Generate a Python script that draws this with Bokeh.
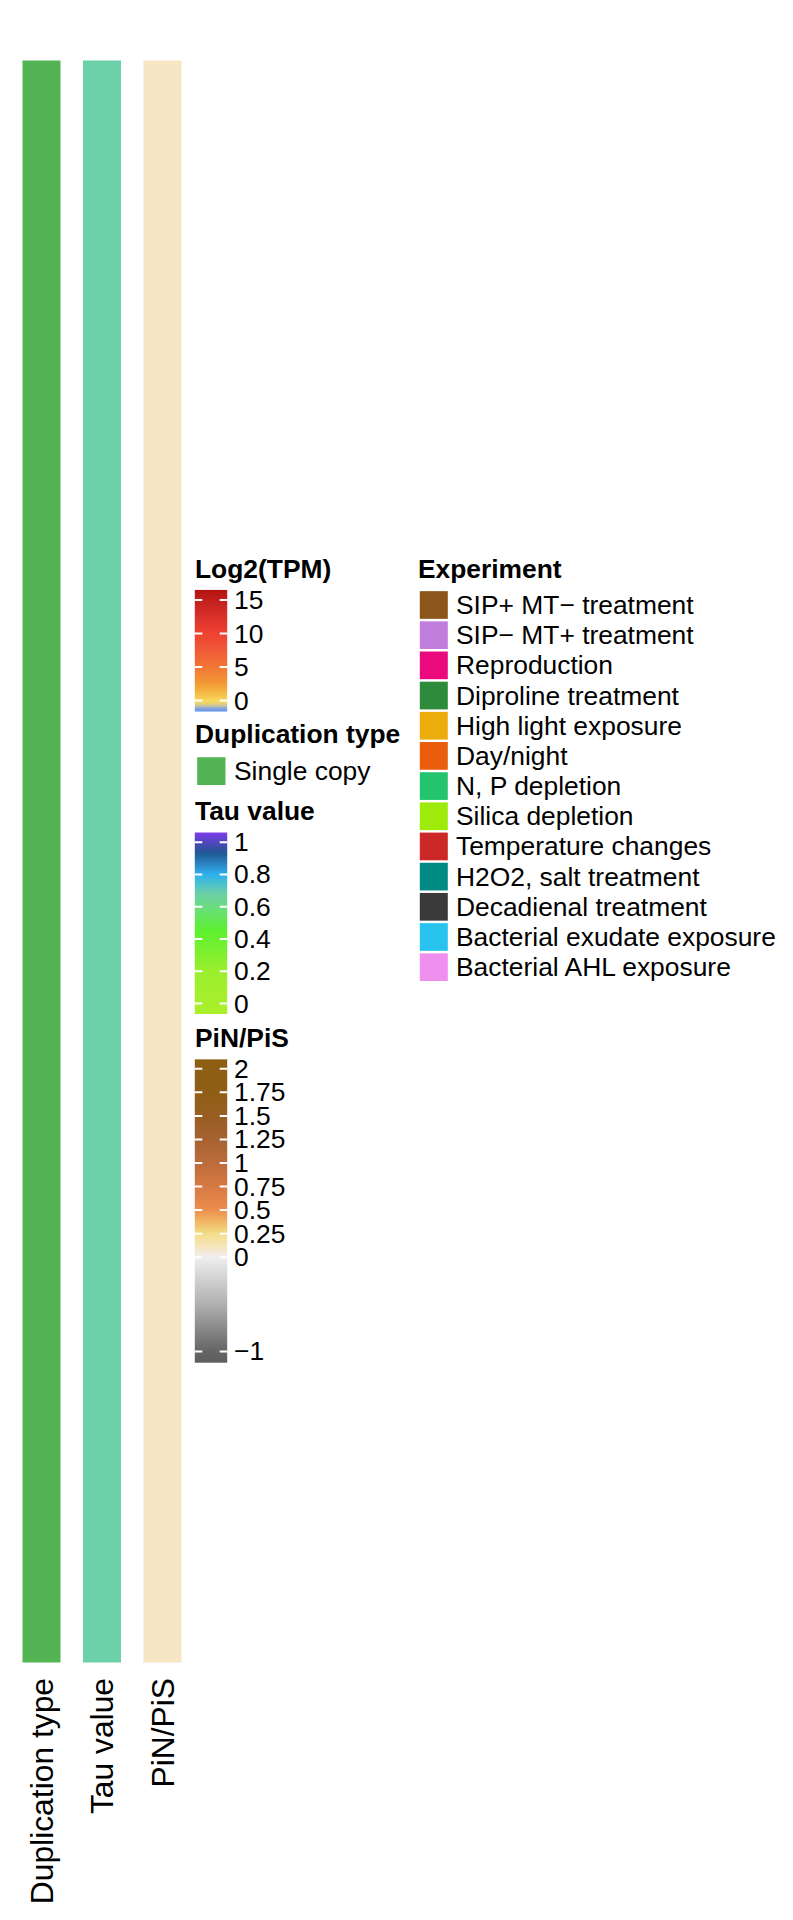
import math
import numpy as np
from bokeh.plotting import figure
from bokeh.models import Range1d
from bokeh.core.properties import value
from bokeh.embed import file_html
from bokeh.resources import INLINE

# ---------------- data ----------------
annotation_names = ["Duplication type", "Tau value", "PiN/PiS"]
duplication_type = ["Single copy"]
tau_value = [0.68]
pin_pis = [0.1]

dup_levels = ["Single copy"]
dup_colors = ["#52B452"]

log2_ticks = [0, 5, 10, 15]
log2_tick_labels = ["0", "5", "10", "15"]
log2_limits = [-1.65, 16.5]
log2_stops = [-1.65, -1.25, -0.8, -0.3, 0, 0.5, 1.5, 3, 5, 7.5, 10, 12.5, 15, 16.5]
log2_stop_colors = ["#6495ED", "#7FA0E0", "#C9C4A0", "#F2D665", "#F7D85C", "#F6C850",
                    "#F5B040", "#F39235", "#F27535", "#F05A37", "#EE4232", "#D8302A",
                    "#C01E1C", "#B01210"]

tau_ticks = [0, 0.2, 0.4, 0.6, 0.8, 1]
tau_tick_labels = ["0", "0.2", "0.4", "0.6", "0.8", "1"]
tau_limits = [-0.065, 1.06]
tau_stops = [-0.065, 0.2, 0.45, 0.6, 0.68, 0.8, 0.88, 0.93, 0.97, 1.06]
tau_stop_colors = ["#ABEF2C", "#9BEF2E", "#5DF02F", "#6ADD80", "#6CD0A8", "#2DB2EE",
                   "#2A7AB8", "#1E5C96", "#3C4DA8", "#7D3CEB"]

pin_ticks = [-1, 0, 0.25, 0.5, 0.75, 1, 1.25, 1.5, 1.75, 2]
pin_tick_labels = ["\u22121", "0", "0.25", "0.5", "0.75", "1", "1.25", "1.5", "1.75", "2"]
pin_limits = [-1.12, 2.1]
pin_stops = [-1.12, -1, -0.5, 0, 0.1, 0.25, 0.4, 0.5, 0.75, 1, 1.25, 1.5, 1.75, 2.1]
pin_stop_colors = ["#5E5E5E", "#656565", "#B0B0B0", "#F0EFF0", "#F6E6C4", "#F3DE88",
                   "#F0B060", "#EE8E4E", "#D77A44", "#BE6C3C", "#A76232", "#985E22",
                   "#905E16", "#8C5E12"]

experiments = ["SIP+ MT\u2212 treatment", "SIP\u2212 MT+ treatment", "Reproduction",
               "Diproline treatment", "High light exposure", "Day/night",
               "N, P depletion", "Silica depletion", "Temperature changes",
               "H2O2, salt treatment", "Decadienal treatment",
               "Bacterial exudate exposure", "Bacterial AHL exposure"]
experiment_colors = ["#8C561A", "#C27EDC", "#EA0A7D", "#2E8B3C", "#ECAC0C", "#EA5D0D",
                     "#24C46E", "#9EEA0A", "#CC2828", "#008A84", "#3A3A3A",
                     "#28C4EE", "#F090EE"]

# ---------------- layout / style ----------------
FIG_W, FIG_H, M = 777, 1904, 0
FONT = "Liberation Sans"
LAB_PX = 26.4
LAB = "26.4px"
COL_PX = 31.8
COLLAB = "31.8px"
BASE_ADJ = 0.0  # anchor offset (fraction of font size) from cap centre

HEAT_TOP, HEAT_BOT = 60, 1662
COL_C0, COL_PITCH, COL_W = 41, 60.5, 38
COL_LABEL_END = 1677.5

GRID_L, GRID_R = 194.3, 226.7
TITLE_X = 194.5
LABEL_X = 233.5
EXP_TITLE_X, EXP_SW_L, EXP_SW_R, EXP_LABEL_X = 417.4, 419.3, 447.3, 455.5
EXP_ROW0, EXP_PITCH, SW_H = 604.5, 30.18, 27.7
TITLE_CAPC = 9.3  # title baseline minus cap centre


def hex2rgb(h):
    return tuple(int(h[i:i + 2], 16) for i in (1, 3, 5))


def ramp_rgb(v, stops, cols):
    if v <= stops[0]:
        return hex2rgb(cols[0])
    for i in range(len(stops) - 1):
        if stops[i] <= v <= stops[i + 1]:
            t = (v - stops[i]) / (stops[i + 1] - stops[i])
            a, b = hex2rgb(cols[i]), hex2rgb(cols[i + 1])
            return tuple(int(round(a[k] + (b[k] - a[k]) * t)) for k in range(3))
    return hex2rgb(cols[-1])


def ramp(v, stops, cols):
    return "#%02x%02x%02x" % ramp_rgb(v, stops, cols)


def linear_range(v_a, y_a, v_b, y_b):
    """extra range so that value v_a sits at page y_a and v_b at page y_b"""
    ppu = (y_a - y_b) / (v_b - v_a)
    f = lambda y: v_a + (y_a - y) / ppu
    return Range1d(start=f(M + FIG_H), end=f(M)), ppu


p = figure(width=FIG_W, height=FIG_H, x_range=Range1d(M, M + FIG_W),
           y_range=Range1d(M + FIG_H, M), output_backend="svg", toolbar_location=None,
           x_axis_type=None, y_axis_type=None, min_border=0, outline_line_color=None,
           background_fill_color="white", border_fill_color="white")
p.grid.visible = False

# ---------------- heatmap annotation columns ----------------
p.extra_x_ranges["cols"] = Range1d(start=(M - COL_C0) / COL_PITCH,
                                   end=(M + FIG_W - COL_C0) / COL_PITCH)
idx = list(range(len(annotation_names)))
bar_colors = [dup_colors[dup_levels.index(duplication_type[0])],
              ramp(tau_value[0], tau_stops, tau_stop_colors),
              ramp(pin_pis[0], pin_stops, pin_stop_colors)]
hw = COL_W / COL_PITCH / 2
p.quad(left=[i - hw for i in idx], right=[i + hw for i in idx],
       top=[HEAT_TOP] * 3, bottom=[HEAT_BOT] * 3, fill_color=bar_colors,
       line_color=None, x_range_name="cols")
p.text(x=[i + BASE_ADJ * COL_PX / COL_PITCH for i in idx], y=[COL_LABEL_END] * 3,
       text=annotation_names, angle=math.pi / 2, text_align="right",
       text_baseline="alphabetic", text_font=value(FONT), text_font_size=COLLAB,
       text_color="black", x_range_name="cols")


def title(x, y, t):
    # y is the title baseline; anchor at its cap centre
    p.text(x=[x], y=[y - TITLE_CAPC + BASE_ADJ * LAB_PX], text=[t], text_font=value(FONT),
           text_font_size=LAB, text_font_style="bold", text_align="left",
           text_baseline="alphabetic", text_color="black")


def colorbar(name, ticks, labels, limits, stops, cols, anchor_a, anchor_b):
    rng, ppu = linear_range(anchor_a[0], anchor_a[1], anchor_b[0], anchor_b[1])
    p.extra_y_ranges[name] = rng
    lo, hi = limits
    n = int(round((hi - lo) * ppu))
    img = np.zeros((n, 1), dtype=np.uint32)
    view = img.view(dtype=np.uint8).reshape((n, 1, 4))
    for k in range(n):
        v = lo + (k + 0.5) * (hi - lo) / n
        r, g, b = ramp_rgb(v, stops, cols)
        view[k, 0] = (r, g, b, 255)
    p.image_rgba(image=[img], x=GRID_L, y=lo, dw=GRID_R - GRID_L, dh=hi - lo,
                 y_range_name=name)
    nt = len(ticks)
    p.segment(x0=[GRID_L] * nt, x1=[GRID_L + 7.5] * nt, y0=ticks, y1=ticks,
              line_color="white", line_width=2, y_range_name=name)
    p.segment(x0=[GRID_R - 7.5] * nt, x1=[GRID_R] * nt, y0=ticks, y1=ticks,
              line_color="white", line_width=2, y_range_name=name)
    p.text(x=[LABEL_X] * nt, y=[t - BASE_ADJ * LAB_PX / ppu for t in ticks], text=labels,
           text_font=value(FONT), text_font_size=LAB, text_align="left",
           text_baseline="alphabetic", text_color="black", y_range_name=name)


# Log2(TPM)
title(TITLE_X, 577.5, "Log2(TPM)")
colorbar("log2", log2_ticks, log2_tick_labels, log2_limits, log2_stops, log2_stop_colors,
         (0, 700.0), (15, 599.5))

# Duplication type
title(TITLE_X, 743.0, "Duplication type")
dup_row0 = 770.7
dup_y = [dup_row0 + i * EXP_PITCH for i in range(len(dup_levels))]
p.quad(left=[GRID_L + 2.4] * len(dup_levels), right=[GRID_R - 1.7] * len(dup_levels),
       top=[y - SW_H / 2 for y in dup_y], bottom=[y + SW_H / 2 for y in dup_y],
       fill_color=dup_colors, line_color=None)
p.text(x=[LABEL_X] * len(dup_levels), y=[y + BASE_ADJ * LAB_PX for y in dup_y],
       text=dup_levels, text_font=value(FONT), text_font_size=LAB, text_align="left",
       text_baseline="alphabetic", text_color="black")

# Tau value
title(TITLE_X, 819.3, "Tau value")
colorbar("tau", tau_ticks, tau_tick_labels, tau_limits, tau_stops, tau_stop_colors,
         (0, 1003.0), (1, 841.7))

# PiN/PiS
title(TITLE_X, 1046.7, "PiN/PiS")
colorbar("pin", pin_ticks, pin_tick_labels, pin_limits, pin_stops, pin_stop_colors,
         (0, 1256.7), (2, 1068.3))

# Experiment legend
title(EXP_TITLE_X, 577.5, "Experiment")
p.extra_y_ranges["exp"] = Range1d(start=(M + FIG_H - EXP_ROW0) / EXP_PITCH,
                                  end=(M - EXP_ROW0) / EXP_PITCH)
rows = list(range(len(experiments)))
sh = SW_H / EXP_PITCH / 2
p.quad(left=[EXP_SW_L] * len(rows), right=[EXP_SW_R] * len(rows),
       top=[r - sh for r in rows], bottom=[r + sh for r in rows],
       fill_color=experiment_colors, line_color=None, y_range_name="exp")
p.text(x=[EXP_LABEL_X] * len(rows), y=[r + BASE_ADJ * LAB_PX / EXP_PITCH for r in rows],
       text=experiments, text_font=value(FONT), text_font_size=LAB, text_align="left",
       text_baseline="alphabetic", text_color="black", y_range_name="exp")

open("out.html", "w").write(file_html(p, INLINE))
